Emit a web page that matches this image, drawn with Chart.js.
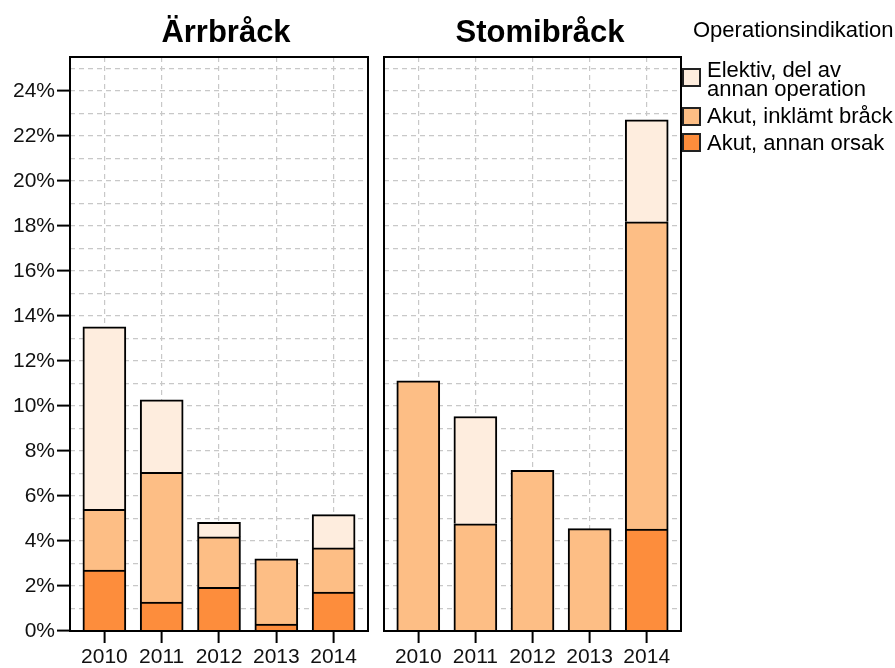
<!DOCTYPE html>
<html><head><meta charset="utf-8">
<script src="https://cdn.jsdelivr.net/npm/chart.js@4/dist/chart.umd.min.js"></script>
<style>
body{margin:0;width:895px;height:668px;position:relative;background:#fff;font-family:"Liberation Sans",Arial,sans-serif;overflow:hidden;color:#000}
#c1{position:absolute;left:0;top:0}
#c2{position:absolute;left:380px;top:0}
.title{position:absolute;top:16px;font-weight:bold;font-size:31px;line-height:31px;transform:translateX(-50%);white-space:nowrap}
.lg{position:absolute;font-size:22px;line-height:22px;white-space:nowrap}
.box{position:absolute;left:682px;width:19px;height:19px;box-sizing:border-box;border:2px solid #222}
</style></head>
<body>
<canvas id="c1" width="370" height="668"></canvas>
<canvas id="c2" width="303" height="668"></canvas>
<div class="title" id="t1" style="left:226px"></div>
<div class="title" id="t2" style="left:540px"></div>
<div id="legend"></div>
<script>
// ---- data ----
const panelTitles = ['Ärrbråck', 'Stomibråck'];
const years = ['2010', '2011', '2012', '2013', '2014'];
const legendTitle = 'Operationsindikation';
const seriesNames = ['Akut, annan orsak', 'Akut, inklämt bråck', 'Elektiv, del av annan operation'];
const legendLines = [['Elektiv, del av', 'annan operation'], ['Akut, inklämt bråck'], ['Akut, annan orsak']];
const seriesColors = ['#FD8D3C', '#FDBE85', '#FEEDDE'];
const arrAnnan    = [2.71, 1.29, 1.94, 0.31, 1.73];
const arrInklamt  = [2.69, 5.76, 2.24, 2.90, 1.96];
const arrElektiv  = [8.11, 3.22, 0.65, null, 1.48];
const stomiAnnan   = [null, null, null, null, 4.53];
const stomiInklamt = [11.11, 4.76, 7.14, 4.55, 13.65];
const stomiElektiv = [null, 4.77, null, null, 4.53];
const yMax = 25.5;
const yLabelStep = 2;

// ---- text ----
document.getElementById('t1').textContent = panelTitles[0];
document.getElementById('t2').textContent = panelTitles[1];
const lg = document.getElementById('legend');
function addDiv(cls, css, txt){const d=document.createElement('div');d.className=cls;d.style.cssText=css;if(txt!==undefined)d.textContent=txt;lg.appendChild(d);}
addDiv('lg','left:693px;top:18.7px',legendTitle);
const textTops = [[59.1,78.1],[105.4],[132.1]];
const boxTops = [68,107,133];
const legendColors = [seriesColors[2], seriesColors[1], seriesColors[0]];
legendLines.forEach((lines,i)=>{
  addDiv('box','top:'+boxTops[i]+'px;background:'+legendColors[i]);
  lines.forEach((t,j)=>addDiv('lg','left:707px;top:'+textTops[i][j]+'px',t));
});

// ---- charts ----
Chart.defaults.font.family = '"Liberation Sans", Arial, sans-serif';
Chart.defaults.font.size = 21;
Chart.defaults.color = '#111';

const boxPlugin = {id:'box', afterDraw(chart){
  const {ctx, chartArea:a} = chart;
  ctx.save(); ctx.strokeStyle='#000'; ctx.lineWidth=2;
  ctx.strokeRect(a.left, a.top, a.right-a.left, a.bottom-a.top);
  ctx.restore();
}};

function makeChart(id, series, showY, pad){
  const datasets = series.map((vals,k)=>({
    label: seriesNames[k],
    data: vals.map((v,i)=>({x:i, y:v})),
    backgroundColor: seriesColors[k],
    borderColor: '#000',
    borderWidth: 2,
    borderSkipped: 'start',
    barThickness: 43
  }));
  return new Chart(document.getElementById(id), {
    type: 'bar',
    data: {datasets},
    plugins: [boxPlugin],
    options: {
      responsive: false, animation: false,
      layout: {padding: pad},
      plugins: {legend:{display:false}, tooltip:{enabled:false}, title:{display:false}},
      scales: {
        x: {
          type: 'linear', stacked: true, min: -0.6, max: 4.6, offset: false,
          afterBuildTicks: s => { s.ticks = years.map((_,i)=>({value:i})); },
          afterFit: s => { s.height = 37; },
          ticks: {autoSkip:false, maxRotation:0, padding:2, callback: v => years[v] ?? ''},
          grid: {offset:false, color:'#C8C8C8', lineWidth:1.2, tickLength:12, tickColor:'#000', tickWidth:2},
          border: {display:false, dash:[5,4]}
        },
        y: {
          type: 'linear', stacked: true, min: 0, max: yMax,
          afterFit: s => { s.width = showY ? 70 : 0; },
          ticks: {display: showY, stepSize:1, autoSkip:false, includeBounds:false, padding:2,
                  callback: v => (v % yLabelStep === 0) ? v + '%' : ''},
          grid: {color:'#C8C8C8', lineWidth:1.2, drawTicks: showY, tickLength:13, tickWidth:2,
                 tickColor: c => (c.tick && c.tick.value % yLabelStep === 0) ? '#000' : 'rgba(0,0,0,0)'},
          border: {display:false, dash:[5,4]}
        }
      }
    }
  });
}
makeChart('c1', [arrAnnan, arrInklamt, arrElektiv], true, {top:57, right:2, left:0, bottom:0});
makeChart('c2', [stomiAnnan, stomiInklamt, stomiElektiv], false, {top:57, right:2, left:4, bottom:0});
</script>
</body></html>
